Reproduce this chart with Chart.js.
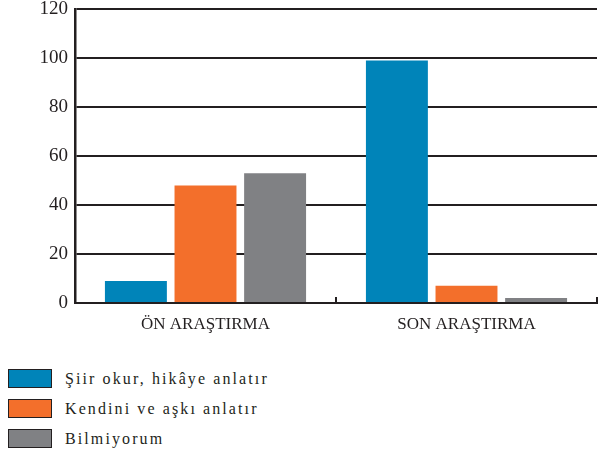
<!DOCTYPE html>
<html>
<head>
<meta charset="utf-8">
<script src="https://cdn.jsdelivr.net/npm/chart.js@4"></script>
<style>
  body { margin: 0; background: #fff; width: 598px; height: 458px; overflow: hidden; position: relative; }
  #wrap { position: absolute; left: 0; top: 0; width: 598px; height: 345px; }
  #legend { position: absolute; left: 8px; top: 369px; font-family: "Liberation Serif", "Times New Roman", serif; font-size: 16px; letter-spacing: 2.1px; color: #231f20; }
  .item { display: flex; align-items: center; height: 19px; margin-bottom: 11px; }
  .box { width: 42px; height: 17px; border: 1px solid #231f20; margin-right: 13px; }
</style>
</head>
<body>
<div id="wrap"><canvas id="chart" width="598" height="345"></canvas></div>
<div id="legend"></div>
<script>
// categories and series
const categories = ["ÖN ARAŞTIRMA", "SON ARAŞTIRMA"];
const seriesNames = ["Şiir okur, hikâye anlatır", "Kendini ve aşkı anlatır", "Bilmiyorum"];
const seriesColors = ["#0084b9", "#f36f2b", "#808184"];
const poemValues = [9, 99];
const selfValues = [48, 7];
const unknownValues = [53, 2];
const yTicks = [0, 20, 40, 60, 80, 100, 120];

const ink = "#231f20";
const serif = "'Liberation Serif', 'Times New Roman', serif";

const chart = new Chart(document.getElementById("chart"), {
  type: "bar",
  data: {
    labels: categories,
    datasets: [poemValues, selfValues, unknownValues].map((vals, i) => ({
      label: seriesNames[i],
      data: vals,
      backgroundColor: seriesColors[i],
      borderWidth: 0,
      categoryPercentage: 0.8,
      barPercentage: 0.89
    }))
  },
  options: {
    responsive: false,
    animation: false,
    layout: { padding: { top: 9, right: 1, left: 0, bottom: 0 } },
    plugins: { legend: { display: false }, tooltip: { enabled: false } },
    scales: {
      x: {
        afterFit: (s) => { s.height = 42; },
        grid: { drawOnChartArea: false, drawTicks: true, tickLength: -6, offset: true, color: ink, lineWidth: 2 },
        border: { color: ink, width: 2 },
        ticks: { color: ink, font: { family: serif, size: 17 }, padding: 17 }
      },
      y: {
        min: 0,
        max: 120,
        afterFit: (s) => { s.width = 75; s.paddingTop = 0; s.paddingBottom = 0; },
        afterBuildTicks: (s) => { s.ticks = yTicks.map(v => ({ value: v })); },
        grid: { color: ink, lineWidth: 2, drawTicks: false },
        border: { color: ink, width: 2.5 },
        ticks: { color: ink, font: { family: serif, size: 19 }, padding: 7 }
      }
    }
  }
});

// legend below the chart, one item per line
const legend = document.getElementById("legend");
chart.data.datasets.forEach(ds => {
  const row = document.createElement("div");
  row.className = "item";
  const box = document.createElement("div");
  box.className = "box";
  box.style.background = ds.backgroundColor;
  const txt = document.createElement("span");
  txt.textContent = ds.label;
  row.appendChild(box);
  row.appendChild(txt);
  legend.appendChild(row);
});
</script>
</body>
</html>
